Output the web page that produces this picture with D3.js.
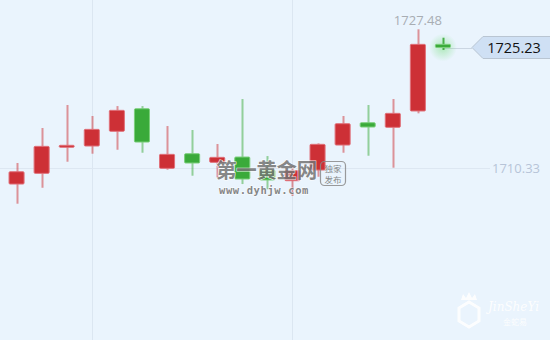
<!DOCTYPE html>
<html lang="zh">
<head>
    <meta charset="UTF-8">
    <script src="https://d3js.org/d3.v7.min.js"></script>
    <title>K</title>
    <style>
        body { margin: 0; background: #eaf4fd; }
        svg { display: block; }
    </style>
</head>
<body>
    <svg width="550" height="340" id="chart"></svg>
    <script>
        // candle data
        let opens  = [1708.35, 1709.67, 1712.93, 1713.05, 1714.87, 1717.66, 1710.29, 1712.10, 1711.03, 1711.69, 1710.08, 1708.76, 1710.08, 1713.17, 1715.93, 1715.36, 1717.38, 1725.62];
        let closes = [1709.87, 1713.01, 1713.14, 1715.11, 1717.46, 1713.54, 1712.02, 1710.95, 1711.65, 1708.97, 1708.85, 1710.00, 1713.26, 1715.81, 1715.40, 1717.09, 1725.62, 1725.23];
        let highs  = [1710.95, 1715.28, 1718.12, 1716.76, 1717.99, 1717.99, 1715.52, 1715.03, 1713.30, 1718.86, 1711.81, 1710.58, 1713.38, 1716.76, 1718.12, 1718.86, 1727.48, 1726.44];
        let lows   = [1705.92, 1707.89, 1711.11, 1712.10, 1712.59, 1712.22, 1710.12, 1709.38, 1709.09, 1708.35, 1707.70, 1706.87, 1709.25, 1712.22, 1711.85, 1710.37, 1717.09, 1724.92];
        let gridCandles = [3, 11];
        let refPrice = 1710.33;
        let lastPrice = 1725.23;

        const W = 550, H = 340;
        const RED = "#cd3036", GREEN = "#3aaa3a";
        let svg = d3.select("#chart");

        let n = opens.length;
        let x = d3.scaleBand()
            .domain(d3.range(n))
            .range([4, 455.5])
            .paddingInner(0.4)
            .paddingOuter(0.2);

        let y = d3.scaleLinear()
            .domain([d3.min(lows), d3.max(highs)])
            .range([203.7, 29.3]);

        let cx = i => x(i) + x.bandwidth() / 2;

        // background
        svg.append("rect").attr("width", W).attr("height", H).attr("fill", "#eaf4fd");

        // glow for the live candle
        let defs = svg.append("defs");
        let glow = defs.append("radialGradient").attr("id", "glow");
        glow.append("stop").attr("offset", "0%").attr("stop-color", "#3fd43f").attr("stop-opacity", 0.35);
        glow.append("stop").attr("offset", "100%").attr("stop-color", "#3fd43f").attr("stop-opacity", 0);

        // vertical grid
        svg.selectAll(".vgrid").data(gridCandles).enter().append("line")
            .attr("x1", d => Math.round(cx(d)) + 0.5)
            .attr("x2", d => Math.round(cx(d)) + 0.5)
            .attr("y1", 0).attr("y2", H)
            .attr("stroke", "#dbe6f1").attr("stroke-width", 1);

        // reference line + label
        svg.append("line")
            .attr("x1", 0).attr("x2", 490)
            .attr("y1", Math.round(y(refPrice)) + 0.5).attr("y2", Math.round(y(refPrice)) + 0.5)
            .attr("stroke", "#dde7f2");
        svg.append("text")
            .attr("x", 540).attr("y", y(refPrice) + 5)
            .attr("text-anchor", "end")
            .attr("font-family", "Open Sans, DejaVu Sans, sans-serif")
            .attr("font-size", 13)
            .attr("fill", "#b7c4d8")
            .text(refPrice.toFixed(2));

        // current price line
        svg.append("line")
            .attr("x1", cx(n - 1)).attr("x2", 472)
            .attr("y1", Math.round(y(lastPrice)) + 0.5).attr("y2", Math.round(y(lastPrice)) + 0.5)
            .attr("stroke", "#cbd6e2");

        svg.append("circle")
            .attr("cx", cx(n - 1)).attr("cy", y(lastPrice))
            .attr("r", 14)
            .attr("fill", "url(#glow)");

        // wicks
        svg.selectAll(".wick").data(opens).enter().append("line")
            .attr("x1", (d, i) => Math.round(cx(i)) + 0.5)
            .attr("x2", (d, i) => Math.round(cx(i)) + 0.5)
            .attr("y1", (d, i) => y(highs[i]))
            .attr("y2", (d, i) => y(lows[i]))
            .attr("stroke", (d, i) => closes[i] >= d ? RED : GREEN)
            .attr("stroke-opacity", (d, i) => i == n - 1 ? 0.9 : 0.5)
            .attr("stroke-width", 2);

        // bodies
        svg.selectAll(".body").data(opens).enter().append("rect")
            .attr("x", (d, i) => x(i))
            .attr("width", x.bandwidth())
            .attr("y", (d, i) => Math.min(y(d), y(closes[i])))
            .attr("height", (d, i) => Math.max(2, Math.abs(y(d) - y(closes[i]))))
            .attr("fill", (d, i) => closes[i] >= d ? RED : GREEN)
            .attr("stroke", (d, i) => closes[i] >= d ? "#e0717a" : "#7ccf7c")
            .attr("stroke-width", 1)
            .attr("rx", 1);

        // max label
        let maxI = d3.maxIndex(highs);
        svg.append("text")
            .attr("x", cx(maxI)).attr("y", y(highs[maxI]) - 4)
            .attr("text-anchor", "middle")
            .attr("font-family", "Open Sans, DejaVu Sans, sans-serif")
            .attr("font-size", 13)
            .attr("fill", "#a8adb3")
            .text(highs[maxI].toFixed(2));

        // last price tag
        let ly = y(lastPrice);
        svg.append("path")
            .attr("d", `M472,${ly} L483,${ly - 11} L551,${ly - 11} L551,${ly + 11} L483,${ly + 11} Z`)
            .attr("fill", "#cfe0f4")
            .attr("stroke", "#b9c5d2")
            .attr("stroke-width", 1);
        svg.append("text")
            .attr("x", 514).attr("y", ly + 5.5)
            .attr("text-anchor", "middle")
            .attr("font-family", "Open Sans, DejaVu Sans, sans-serif")
            .attr("font-size", 14.5)
            .attr("fill", "#111")
            .text(lastPrice.toFixed(2));

        // watermark 第一黄金网
        let wm = svg.append("g").attr("opacity", 0.85);
        wm.append("text")
            .attr("x", 216).attr("y", 177.5)
            .attr("font-family", "Noto Sans CJK SC, sans-serif")
            .attr("font-weight", "bold")
            .attr("font-size", 20.5)
            .attr("fill", "#747474")
            .attr("stroke", "#ffffff").attr("stroke-width", 1.2).attr("paint-order", "stroke")
            .attr("letter-spacing", -0.3)
            .text("第一黄金网");
        wm.append("text")
            .attr("x", 219).attr("y", 194)
            .attr("font-family", "DejaVu Sans Mono, monospace")
            .attr("font-weight", "bold")
            .attr("font-size", 10.5)
            .attr("fill", "#747474")
            .attr("stroke", "#ffffff").attr("stroke-width", 1).attr("paint-order", "stroke")
            .attr("letter-spacing", 0.6)
            .text("www.dyhjw.com");
        wm.append("rect")
            .attr("x", 320.5).attr("y", 161.5).attr("width", 25).attr("height", 24).attr("rx", 4)
            .attr("fill", "none").attr("stroke", "#8a8a8a").attr("stroke-width", 1.2);
        wm.append("text")
            .attr("x", 333).attr("y", 171.5)
            .attr("text-anchor", "middle")
            .attr("font-family", "Noto Sans CJK SC, sans-serif")
            .attr("font-size", 8.5).attr("fill", "#747474")
            .text("独家");
        wm.append("text")
            .attr("x", 333).attr("y", 183)
            .attr("text-anchor", "middle")
            .attr("font-family", "Noto Sans CJK SC, sans-serif")
            .attr("font-size", 8.5).attr("fill", "#747474")
            .text("发布");

        // JinSheYi logo (very faint)
        let logo = svg.append("g").attr("fill", "#ffffff").attr("opacity", 0.9);
        logo.append("path")
            .attr("d", "M459,308 L469,302 L479,308 L479,321 L469,327 L459,321 Z")
            .attr("fill", "none").attr("stroke", "#ffffff").attr("stroke-width", 3);
        logo.append("path")
            .attr("d", "M461,300 L463,294 L466,298 L469,292 L472,298 L475,294 L477,300 Z");
        logo.append("text")
            .attr("x", 488).attr("y", 311)
            .attr("font-family", "DejaVu Serif, serif")
            .attr("font-style", "italic")
            .attr("font-size", 12)
            .text("JinSheYi");
        logo.append("text")
            .attr("x", 515).attr("y", 325)
            .attr("text-anchor", "middle")
            .attr("font-family", "Noto Sans CJK SC, sans-serif")
            .attr("font-size", 8)
            .text("金蛇易");
    </script>
</body>
</html>
